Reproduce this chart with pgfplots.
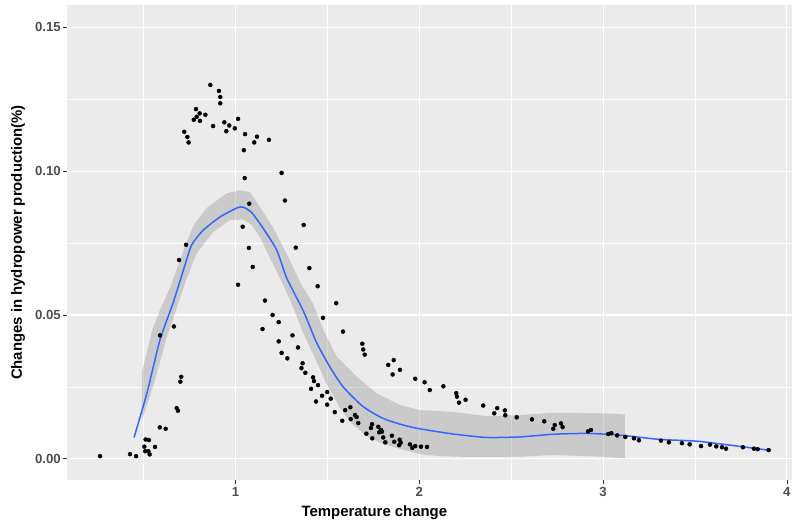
\documentclass[border=0pt]{standalone}
\usepackage{pgfplots}
\pgfplotsset{compat=1.18}
\usepackage{fontspec}
\setmainfont{Liberation Sans}
\definecolor{ggbg}{HTML}{EBEBEB}
\definecolor{ggblue}{HTML}{3366FF}
\definecolor{ggtick}{HTML}{4D4D4D}
\definecolor{ggribbon}{HTML}{999999}
\begin{document}
\begin{tikzpicture}
\useasboundingbox (0,0) rectangle (792pt,525pt);
\begin{axis}[
 at={(67pt,45pt)}, anchor=south west,
 width=725pt, height=475pt, scale only axis,
 xmin=0.0832, xmax=4.028, ymin=-0.0074, ymax=0.1578,
 xtick={1,2,3,4}, xticklabels={1,2,3,4},
 ytick={0,0.05,0.10,0.15}, yticklabels={0.00,0.05,0.10,0.15},
 minor xtick={0.5,1.5,2.5,3.5}, minor ytick={0.025,0.075,0.125},
 grid=both,
 major grid style={white, line width=1.1pt},
 minor grid style={white, line width=0.55pt},
 axis background/.style={fill=ggbg},
 axis line style={draw=none},
 tick align=outside, tick pos=left,
 major tick length=3.7pt, minor tick length=0pt,
 major tick style={draw=black!80, line width=0.7pt},
 ticklabel style={font=\bfseries\fontsize{13.2}{14}\selectfont, text=ggtick},
 yticklabel style={xshift=1pt},
 xlabel={Temperature change}, ylabel={Changes in hydropower production(\%)},
 every axis x label/.style={at={(axis description cs:0.424,-0.0695)}, anchor=center, font=\bfseries\fontsize{14.9}{16}\selectfont},
 every axis y label/.style={at={(axis description cs:-0.0676,0.5)}, rotate=90, anchor=center, font=\bfseries\fontsize{14.9}{16}\selectfont},
 scaled y ticks=false,
]
\addplot[only marks, mark=*, mark size=2pt, black] table {
x y
0.863 0.1300
0.910 0.1279
0.917 0.1258
0.917 0.1236
0.785 0.1216
0.805 0.1201
0.789 0.1189
0.773 0.1179
0.807 0.1175
0.836 0.1196
0.878 0.1157
0.939 0.1170
0.966 0.1159
0.996 0.1149
1.014 0.1182
0.950 0.1139
0.721 0.1137
0.738 0.1119
0.745 0.1100
1.052 0.1129
1.117 0.1120
1.102 0.1100
1.182 0.1109
1.045 0.1073
1.251 0.0994
1.050 0.0976
1.269 0.0898
1.075 0.0887
1.371 0.0813
1.039 0.0807
0.731 0.0744
1.073 0.0733
1.328 0.0734
0.693 0.0691
1.094 0.0667
1.402 0.0663
1.014 0.0605
1.447 0.0600
1.160 0.0550
1.202 0.0500
1.235 0.0475
1.147 0.0451
0.665 0.0460
0.589 0.0429
1.310 0.0429
1.235 0.0408
1.340 0.0387
1.251 0.0368
1.282 0.0349
1.365 0.0332
1.359 0.0315
1.380 0.0299
1.422 0.0283
1.427 0.0270
1.449 0.0256
1.411 0.0243
1.438 0.0199
0.705 0.0285
0.700 0.0268
0.680 0.0176
0.687 0.0167
0.588 0.0109
0.620 0.0104
0.511 0.0067
0.529 0.0065
0.504 0.0042
0.562 0.0041
0.509 0.0026
0.526 0.0026
0.533 0.0015
0.426 0.0016
0.459 0.0009
0.263 0.0009
1.548 0.0541
1.476 0.0490
1.585 0.0442
1.690 0.0400
1.695 0.0380
1.703 0.0362
1.831 0.0326
1.861 0.0343
1.855 0.0293
1.895 0.0309
1.978 0.0278
2.029 0.0266
2.057 0.0239
2.131 0.0252
2.201 0.0228
2.205 0.0216
2.216 0.0195
2.252 0.0205
2.348 0.0185
2.424 0.0176
2.408 0.0158
2.466 0.0168
2.468 0.0151
2.530 0.0144
2.613 0.0137
2.680 0.0130
2.737 0.0117
2.729 0.0104
2.771 0.0123
2.780 0.0110
2.918 0.0095
2.934 0.0100
3.028 0.0086
3.045 0.0089
3.077 0.0081
3.121 0.0076
3.168 0.0071
3.195 0.0064
3.315 0.0063
3.358 0.0057
3.429 0.0054
3.471 0.0050
3.533 0.0044
3.582 0.0049
3.616 0.0043
3.647 0.0040
3.669 0.0035
3.761 0.0040
3.821 0.0035
3.841 0.0033
3.901 0.0030
1.499 0.0232
1.471 0.0219
1.518 0.0209
1.499 0.0188
1.540 0.0162
1.597 0.0169
1.625 0.0179
1.581 0.0132
1.627 0.0138
1.650 0.0152
1.659 0.0145
1.668 0.0124
1.743 0.0120
1.737 0.0107
1.777 0.0111
1.792 0.0100
1.797 0.0094
1.782 0.0092
1.712 0.0087
1.851 0.0080
1.804 0.0074
1.744 0.0071
1.815 0.0057
1.864 0.0059
1.893 0.0066
1.899 0.0056
1.890 0.0047
1.949 0.0050
1.962 0.0038
1.978 0.0044
2.009 0.0042
2.042 0.0041
};
\addplot[draw=none, fill=ggribbon, fill opacity=0.4] coordinates {
(0.491,0.0176) (0.491,0.0301) (0.544,0.0441) (0.589,0.0517) (0.644,0.0594)
(0.714,0.0719) (0.770,0.0810) (0.843,0.0872) (0.952,0.0923) (1.024,0.0934)
(1.079,0.0927) (1.133,0.0876) (1.206,0.0802) (1.279,0.0712) (1.351,0.0615)
(1.423,0.0538) (1.478,0.0448) (1.551,0.0355) (1.659,0.0286) (1.768,0.0227)
(1.895,0.0187) (2.004,0.0169) (2.183,0.0163) (2.367,0.0148) (2.548,0.0152)
(2.729,0.0160) (3.001,0.0158) (3.119,0.0154)
(3.119,0.0001) (3.001,0.0007) (2.729,0.0013) (2.548,0.0007) (2.258,0.0006)
(2.113,0.0009) (2.004,0.0016) (1.895,0.0034) (1.803,0.0051) (1.714,0.0079)
(1.623,0.0128) (1.569,0.0176) (1.496,0.0260) (1.442,0.0336) (1.369,0.0437)
(1.297,0.0552) (1.242,0.0628) (1.188,0.0698) (1.133,0.0771) (1.088,0.0813)
(1.042,0.0832) (0.970,0.0830) (0.879,0.0789) (0.789,0.0714) (0.731,0.0621)
(0.698,0.0558) (0.626,0.0423) (0.562,0.0274) (0.513,0.0176) (0.491,0.0135)
} -- cycle;
\addplot[ggblue, line width=1.5pt, smooth, tension=0.4] coordinates {
(0.448,0.0074) (0.518,0.0228) (0.589,0.0413) (0.660,0.0541) (0.720,0.0663)
(0.762,0.0744) (0.825,0.0795) (0.916,0.0841) (1.007,0.0872) (1.042,0.0875)
(1.088,0.0856) (1.151,0.0801) (1.224,0.0726) (1.279,0.0628) (1.369,0.0514)
(1.442,0.0403) (1.514,0.0319) (1.587,0.0249) (1.695,0.0181) (1.804,0.0140)
(1.913,0.0117) (2.004,0.0104) (2.183,0.0086) (2.367,0.0074) (2.548,0.0076)
(2.727,0.0085) (2.912,0.0088) (3.092,0.0082) (3.310,0.0067) (3.528,0.0060)
(3.908,0.0029)
};
\end{axis}
\end{tikzpicture}
\end{document}
